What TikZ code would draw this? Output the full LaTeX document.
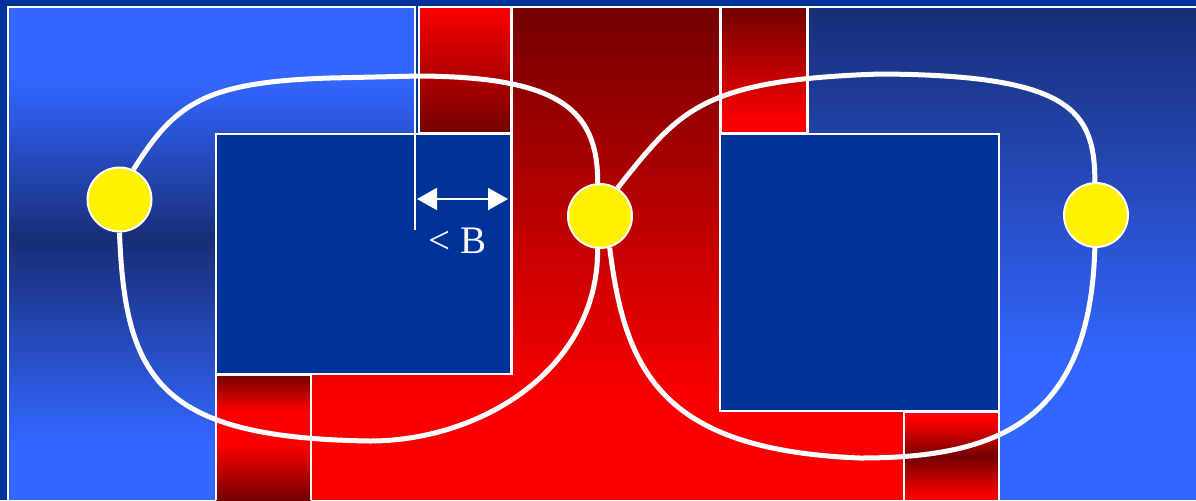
\documentclass[tikz,border=0pt]{standalone}
\usepackage{fontspec}
\setmainfont{Liberation Serif}
\usetikzlibrary{arrows.meta}
\definecolor{bgblue}{RGB}{0,51,153}
\definecolor{lblue}{RGB}{51,102,255}
\definecolor{navy}{RGB}{23,45,117}
\definecolor{dred}{RGB}{115,0,0}
\definecolor{bred}{RGB}{250,0,0}
\begin{document}
\begin{tikzpicture}[x=0.5pt,y=-0.5pt,
  edge/.style={draw=white, line width=0.6pt},
  wire/.style={draw=white, line width=2.5pt},
  junction/.style={circle, fill=yellow, draw=white, line width=1pt, minimum size=32pt, inner sep=0pt},
  dimarrow/.style={draw=white, line width=1pt, {Triangle[length=10pt,width=11pt]}-{Triangle[length=10pt,width=11pt]}},
  lbl/.style={text=white, font=\fontsize{19.5}{20}\selectfont, anchor=base, inner sep=0pt}
]
\useasboundingbox (0,0) rectangle (1196,500);
\fill[bgblue] (0,0) rectangle (1196,500);
% left region
\fill[lblue] (8,7) rectangle (415,81);
\shade[top color=lblue, bottom color=navy] (8,80) rectangle (415,241);
\shade[top color=navy, bottom color=lblue] (8,240) rectangle (415,441);
\fill[lblue] (8,440) rectangle (415,500);
\draw[edge] (8,500) -- (8,7) -- (415,7) -- (415,500);
% right region
\shade[top color=navy, bottom color=lblue] (808,7) rectangle (1196,361);
\fill[lblue] (808,360) rectangle (1196,500);
\draw[edge] (808,500) -- (808,7) -- (1196,7);
% central red region
\begin{scope}
\clip (512,7) -- (720,7) -- (720,411) -- (903,411) -- (903,500) -- (312,500) -- (312,375) -- (512,375) -- cycle;
\shade[top color=dred, bottom color=bred] (312,7) rectangle (903,401);
\fill[bred] (312,400) rectangle (903,500);
\end{scope}
\draw[edge] (512,375) -- (512,7) -- (720,7) -- (720,411);
% small red rectangles
\shade[top color=bred, bottom color=dred] (419,7) rectangle (511,133);
\draw[edge] (419,7) rectangle (511,133);
\shade[top color=dred, bottom color=bred] (721,7) rectangle (807,120);
\fill[bred] (721,119) rectangle (807,133);
\draw[edge] (721,7) rectangle (807,133);
\shade[top color=dred, bottom color=bred] (216,375) rectangle (311,411);
\fill[bred] (216,410) rectangle (311,446);
\shade[top color=bred, bottom color=dred] (216,445) rectangle (311,500);
\draw[edge] (216,500) -- (216,375) -- (311,375) -- (311,500);
\fill[bred] (904,412) rectangle (999,421);
\shade[top color=bred, bottom color=dred] (904,420) rectangle (999,457);
\shade[top color=dred, bottom color=bred] (904,456) rectangle (999,496);
\fill[bred] (904,495) rectangle (999,500);
\draw[edge] (904,500) -- (904,412) -- (999,412) -- (999,500);
% blue boxes
\filldraw[fill=bgblue, edge] (216,134) rectangle (511,374);
\filldraw[fill=bgblue, edge] (720,134) rectangle (999,411);
% dimension
\coordinate (dimtop) at (415,134);
\coordinate (dimbot) at (415,230);
\draw[edge] (dimtop) -- (dimbot);
\coordinate (aL) at (417,199);
\coordinate (aR) at (508,199);
\draw[dimarrow] (aL) -- (aR);
\node[lbl] (blabel) at (457.5,253) {< B};
% junctions
\node[junction] (L) at (119.5,199.5) {};
\node[junction] (M) at (600,216) {};
\node[junction] (R) at (1096,215) {};
% wires
\draw[wire] (L.65) .. controls (175,103) and (205,82) .. (330,78) -- (420,76) .. controls (560,77) and (598,110) .. (M.94);
\draw[wire] (L.270) .. controls (125,380) and (160,438) .. (370,441) .. controls (480,441) and (598,370) .. (M.266);
\draw[wire] (M.58) .. controls (680,110) and (700,80) .. (880,74) .. controls (1070,75) and (1095,110) .. (R.92);
\draw[wire] (M.287) .. controls (625,370) and (660,450) .. (860,458) .. controls (1000,458) and (1090,420) .. (R.268);
\end{tikzpicture}
\end{document}
